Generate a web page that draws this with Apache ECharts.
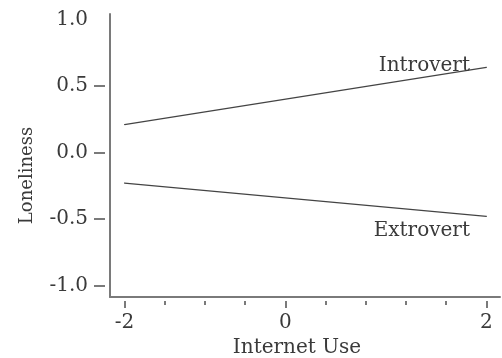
<!DOCTYPE html>
<html>
<head>
<meta charset="utf-8">
<script src="https://cdn.jsdelivr.net/npm/echarts@6/dist/echarts.min.js"></script>
<style>
  html, body { margin: 0; padding: 0; background: #fff; }
  #chart { width: 502px; height: 358px; }
</style>
</head>
<body>
<div id="chart"></div>
<script>
// Simple slopes: loneliness vs. internet use, by personality type
const xEnds = [-2, 2];
const introvert = [0.21, 0.64];
const extrovert = [-0.23, -0.48];

const seriesNames = ['Introvert', 'Extrovert'];

// x axis: ten evenly spaced ticks between -2 and 2, three of them labelled
const xTickCount = 10;
const xTickLabels = ['-2', '0', '2'];
const xLabelTickIndex = [0, 4, 9];

// y axis ticks and labels
const yTicks = [-1, -0.5, 0, 0.5];
const yLabels = [-1, -0.5, 0, 0.5, 1];

const FONT = 'DejaVu Serif';
const TEXT = '#3a3a3a';
const AXIS = '#7a7a7a';

const xMin = -2.16, xMax = 2.15;
const yMin = -1.086, yMax = 1.041;

const xStep = (xEnds[1] - xEnds[0]) / (xTickCount - 1);
const xTickValues = Array.from({ length: xTickCount }, (_, i) => xEnds[0] + i * xStep);
const xLabelValues = xLabelTickIndex.map(i => xTickValues[i]);

function xLabelFor(v) {
  const k = xLabelValues.findIndex(t => Math.abs(t - v) < 1e-6);
  return k >= 0 ? xTickLabels[k] : '';
}

// line data; the last point of each line carries its name
function lineData(ys, name, dy) {
  return xEnds.map((x, i) => {
    const item = { value: [x, ys[i]] };
    if (i === xEnds.length - 1) {
      item.label = {
        show: true, formatter: name, position: 'left', distance: 16,
        offset: [0, dy], fontFamily: FONT, fontSize: 20, color: TEXT
      };
    }
    return item;
  });
}

const chart = echarts.init(document.getElementById('chart'), null, { renderer: 'canvas' });

const lineStyle = { color: '#444', width: 1.3 };

chart.setOption({
  animation: false,
  backgroundColor: '#fff',
  grid: { left: 110, top: 14, right: 2, bottom: 61, containLabel: false, outerBoundsMode: 'none' },
  xAxis: [
    {
      // main axis line with the axis title
      type: 'value', min: xMin, max: xMax, position: 'bottom',
      axisLine: { show: true, onZero: false, lineStyle: { color: AXIS, width: 2 } },
      axisTick: { show: false }, axisLabel: { show: false }, splitLine: { show: false },
      name: 'Internet Use', nameLocation: 'middle', nameGap: 41,
      nameTextStyle: { fontFamily: FONT, fontSize: 20, color: TEXT, padding: [0, 16, 0, 0] }
    },
    {
      // short ticks, set slightly below the line
      type: 'value', min: xMin, max: xMax, position: 'bottom', offset: 4,
      axisLine: { show: false, onZero: false },
      axisTick: { show: true, customValues: xTickValues, length: 4, lineStyle: { color: AXIS, width: 2 } },
      axisLabel: { show: false }, splitLine: { show: false }
    },
    {
      // labelled ticks
      type: 'value', min: xMin, max: xMax, position: 'bottom', offset: 4,
      axisLine: { show: false, onZero: false },
      axisTick: { show: true, customValues: xLabelValues, length: 7, lineStyle: { color: AXIS, width: 2 } },
      axisLabel: {
        show: true, customValues: xLabelValues, margin: 12,
        fontFamily: FONT, fontSize: 20, color: TEXT,
        formatter: v => xLabelFor(v)
      },
      splitLine: { show: false }
    }
  ],
  yAxis: [
    {
      type: 'value', min: yMin, max: yMax, position: 'left',
      axisLine: { show: true, onZero: false, lineStyle: { color: AXIS, width: 2 } },
      axisTick: { show: false }, axisLabel: { show: false }, splitLine: { show: false },
      name: 'Loneliness', nameLocation: 'middle', nameGap: 74, nameRotate: 90,
      nameTextStyle: { fontFamily: FONT, fontSize: 18, color: TEXT, padding: [0, 40, 0, 0] }
    },
    {
      type: 'value', min: yMin, max: yMax, position: 'left', offset: 5,
      axisLine: { show: false, onZero: false },
      axisTick: { show: true, customValues: yTicks, length: 11, lineStyle: { color: AXIS, width: 2 } },
      axisLabel: {
        show: true, customValues: yLabels, margin: 17,
        fontFamily: FONT, fontSize: 20, color: TEXT,
        formatter: v => v.toFixed(1)
      },
      splitLine: { show: false }
    }
  ],
  series: [
    {
      name: seriesNames[0], type: 'line', xAxisIndex: 0, yAxisIndex: 0,
      data: lineData(introvert, seriesNames[0], -2),
      symbol: 'circle', symbolSize: 1, showSymbol: true,
      itemStyle: { color: '#444' }, lineStyle: lineStyle
    },
    {
      name: seriesNames[1], type: 'line', xAxisIndex: 0, yAxisIndex: 0,
      data: lineData(extrovert, seriesNames[1], 14),
      symbol: 'circle', symbolSize: 1, showSymbol: true,
      itemStyle: { color: '#444' }, lineStyle: lineStyle
    }
  ]
});
</script>
</body>
</html>
